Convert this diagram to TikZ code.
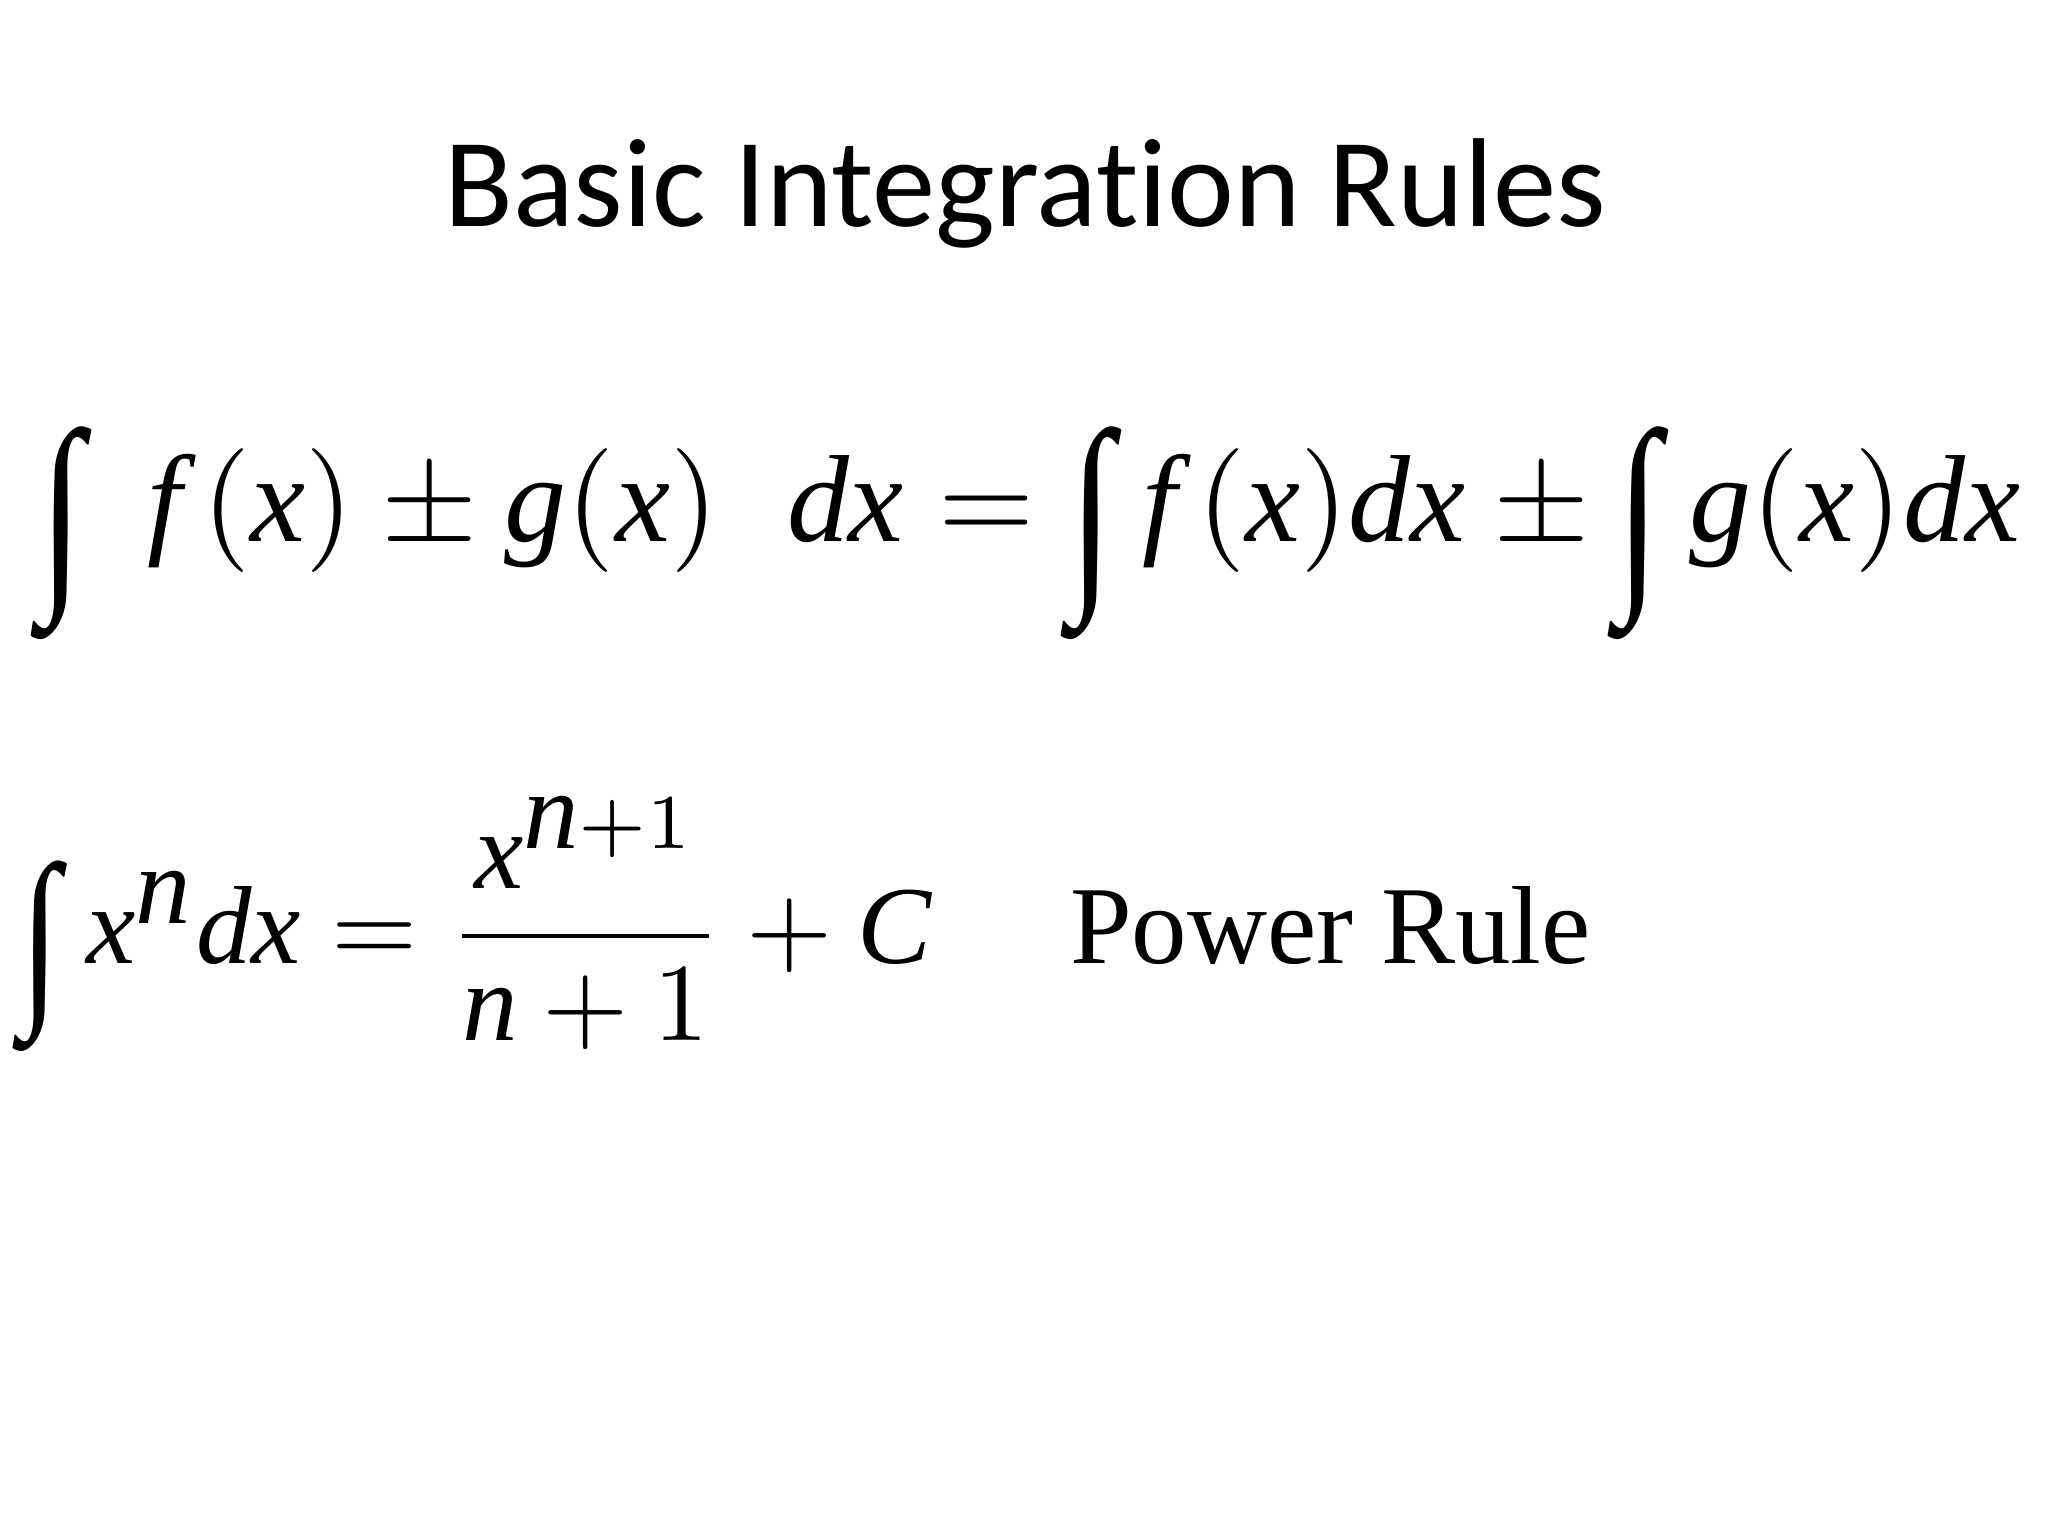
\documentclass[tikz,border=0pt]{standalone}
\usepackage{graphicx}
\usepackage{fontspec}
\setmainfont{Liberation Serif}
\newfontfamily\titlefont[Ligatures=NoCommon]{Carlito}
\newcommand\vi[1]{\textit{#1}}
\newcommand\myint{\mathop{\raisebox{-0.32em}{\scalebox{1.3}[1.75]{\textup{∫}}}}}
\begin{document}
\begin{tikzpicture}
\useasboundingbox[fill=white] (0,0) rectangle (20.48,15.36);
\tikzset{eq/.style={inner sep=0pt}}
\node[eq] (title) at (10.25,13.43) {\titlefont\fontsize{36}{40}\selectfont Basic Integration Rules};
\node[eq,anchor=base west] (sum) at (0.39,9.94) {\resizebox{19.8cm}{!}{$\myint \; \vi{f}\,(\vi{x})\pm \vi{g}(\vi{x})\;\; \vi{dx} = \myint \vi{f}\,(\vi{x})\vi{dx}\pm\myint \vi{g}(\vi{x})\vi{dx}$}};
\node[eq,anchor=base west] (power) at (0.2,5.72) {\resizebox{15.7cm}{!}{$\myint \vi{x}^{\vi{n}}\vi{dx} = \displaystyle\frac{\vi{x}^{\vi{n}+1}}{\vi{n}+1}+\vi{C}$\quad\ Power Rule}};
\end{tikzpicture}
\end{document}
